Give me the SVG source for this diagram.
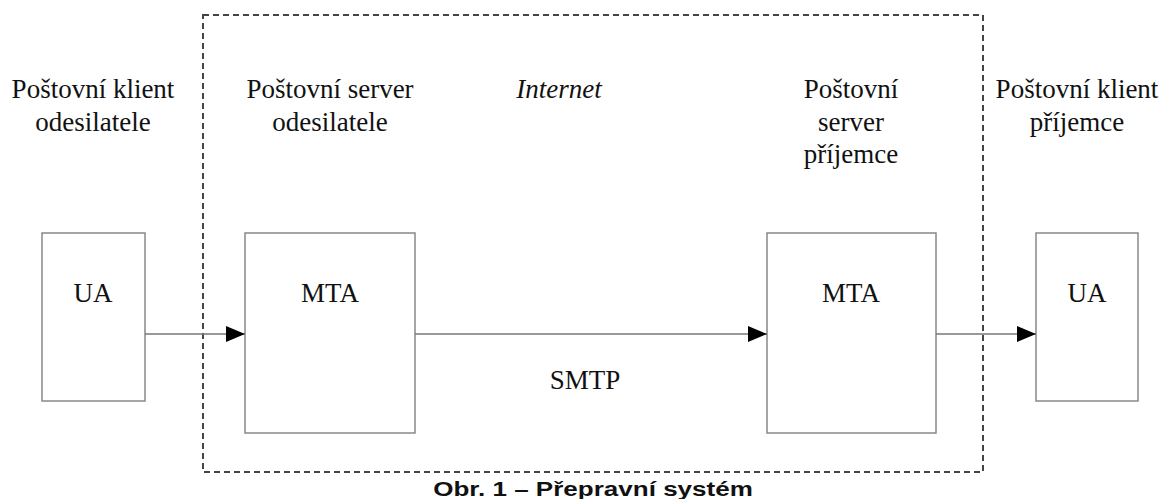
<svg xmlns="http://www.w3.org/2000/svg" width="1166" height="499" viewBox="0 0 1166 499">
<style>
.t{font-family:"Liberation Serif","Times New Roman",serif;font-size:27px;fill:#111;text-anchor:middle}
.box{fill:#fff;stroke:#888;stroke-width:1.5}
.con{stroke:#777;stroke-width:1.5;fill:none}
.cap{font-family:"Liberation Sans",Arial,sans-serif;font-size:21px;font-weight:bold;fill:#111;text-anchor:middle}
</style>
<defs>
<marker id="ah" markerWidth="20" markerHeight="16" refX="19" refY="8" orient="auto" markerUnits="userSpaceOnUse">
<path d="M0,0 L19,8 L0,16 Z" fill="#000"/>
</marker>
</defs>
<rect width="1166" height="499" fill="#fff"/>
<g id="internet">
<rect x="203" y="15" width="780" height="457" fill="none" stroke="#444" stroke-width="2" stroke-dasharray="6,4"/>
<text class="t" x="559" y="98" font-style="italic">Internet</text>
</g>
<g id="label-client-sender">
<text class="t" x="93" y="98">Poštovní klient</text>
<text class="t" x="93" y="131">odesilatele</text>
</g>
<g id="label-server-sender">
<text class="t" x="330" y="98">Poštovní server</text>
<text class="t" x="330" y="131">odesilatele</text>
</g>
<g id="label-server-receiver">
<text class="t" x="851" y="98">Poštovní</text>
<text class="t" x="851" y="131">server</text>
<text class="t" x="851" y="163">příjemce</text>
</g>
<g id="label-client-receiver">
<text class="t" x="1077" y="98">Poštovní klient</text>
<text class="t" x="1077" y="131">příjemce</text>
</g>
<g id="ua-sender">
<rect class="box" x="42" y="233" width="103" height="168"/>
<text class="t" x="93" y="302">UA</text>
</g>
<g id="mta-sender">
<rect class="box" x="245" y="233" width="170" height="200"/>
<text class="t" x="330" y="302">MTA</text>
</g>
<g id="mta-receiver">
<rect class="box" x="767" y="233" width="169" height="200"/>
<text class="t" x="851" y="302">MTA</text>
</g>
<g id="ua-receiver">
<rect class="box" x="1036" y="233" width="102" height="168"/>
<text class="t" x="1087" y="302">UA</text>
</g>
<g id="connectors">
<line class="con" x1="145" y1="334" x2="245" y2="334" marker-end="url(#ah)"/>
<line class="con" x1="415" y1="334" x2="767" y2="334" marker-end="url(#ah)"/>
<line class="con" x1="936" y1="334" x2="1036" y2="334" marker-end="url(#ah)"/>
<text class="t" x="585" y="389">SMTP</text>
</g>
<g id="caption">
<text class="cap" transform="translate(593,496) scale(1.24,1)" x="0" y="0">Obr. 1 – Přepravní systém</text>
</g>
</svg>
